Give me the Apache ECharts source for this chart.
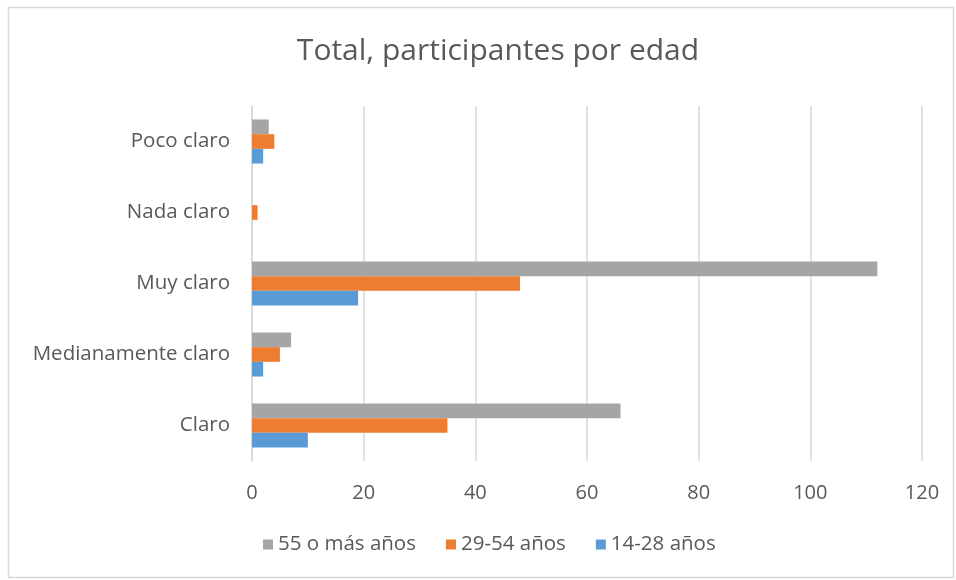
<!DOCTYPE html>
<html>
<head>
<meta charset="utf-8">
<script src="https://cdn.jsdelivr.net/npm/echarts@6/dist/echarts.min.js"></script>
<style>
html,body{margin:0;padding:0;background:#fff;}
#chart{width:956px;height:580px;}
</style>
</head>
<body>
<div id="chart"></div>
<script>
const categories = ['Claro', 'Medianamente claro', 'Muy claro', 'Nada claro', 'Poco claro'];
const seriesNames = ['55 o más años', '29-54 años', '14-28 años'];
const values55 = [66, 7, 112, 0, 3];
const values2954 = [35, 5, 48, 1, 4];
const values1428 = [10, 2, 19, 0, 2];
const xTicks = [0, 20, 40, 60, 80, 100, 120];

const FONT = '"Open Sans", sans-serif';
const TXT = '#595959';
const colors = ['#A5A5A5', '#ED7D31', '#5B9BD5'];
const seriesValues = [values55, values2954, values1428];

const chart = echarts.init(document.getElementById('chart'), null, {renderer: 'canvas'});
chart.setOption({
  animation: false,
  backgroundColor: '#fff',
  title: {
    text: 'Total, participantes por edad',
    left: 493,
    textAlign: 'center',
    top: 31,
    textStyle: {fontFamily: FONT, fontSize: 30, fontWeight: 'normal', color: TXT}
  },
  graphic: [{
    type: 'rect',
    shape: {x: 8.5, y: 7.5, width: 945, height: 570},
    style: {fill: 'none', stroke: '#d9d9d9', lineWidth: 1.5},
    silent: true
  }],
  legend: {
    data: seriesNames,
    bottom: 20,
    left: 258,
    itemWidth: 10,
    itemHeight: 10,
    itemGap: 30,
    icon: 'rect',
    textStyle: {fontFamily: FONT, fontSize: 20.5, color: TXT}
  },
  grid: {left: 252, right: 34, top: 106, bottom: 119, containLabel: false},
  xAxis: {
    type: 'value',
    min: xTicks[0],
    max: xTicks[xTicks.length - 1],
    interval: 20,
    axisLine: {show: false},
    axisTick: {show: false},
    splitLine: {lineStyle: {color: '#d9d9d9', width: 1.5}},
    axisLabel: {fontFamily: FONT, fontSize: 20, color: TXT, margin: 22}
  },
  yAxis: {
    type: 'category',
    data: categories,
    axisLine: {show: true, lineStyle: {color: '#d9d9d9', width: 1.5}},
    axisTick: {show: false},
    axisLabel: {fontFamily: FONT, fontSize: 20.5, color: TXT, margin: 22}
  },
  series: seriesNames.map((n, i) => ({
    name: n,
    type: 'bar',
    data: seriesValues[i],
    barGap: '0%',
    barCategoryGap: '38%',
    itemStyle: {color: colors[i]}
  }))
});
</script>
</body>
</html>
